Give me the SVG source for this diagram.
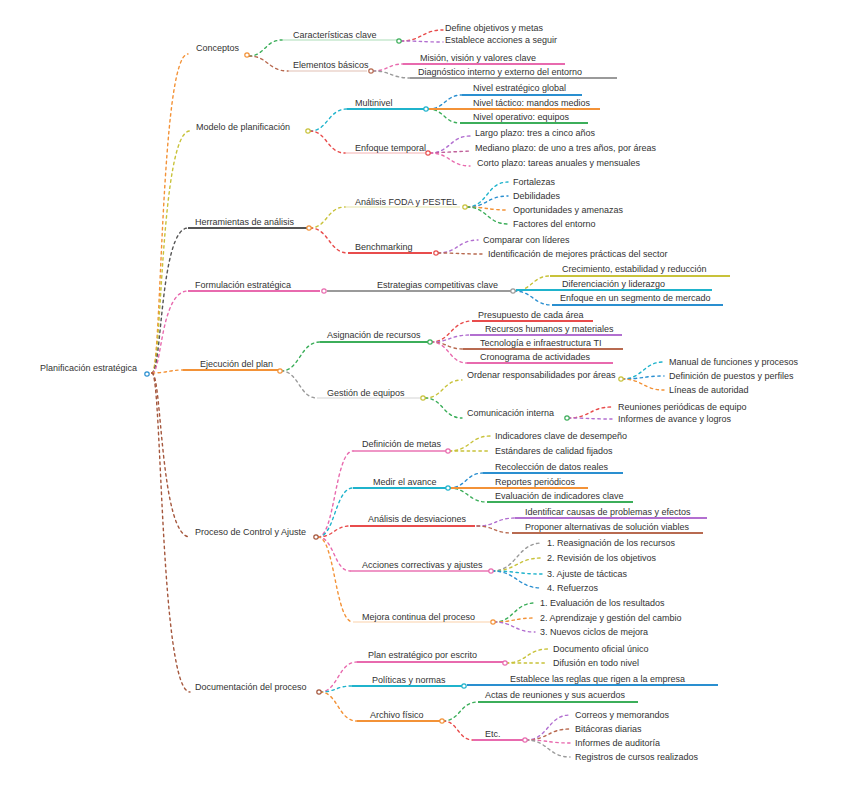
<svg xmlns="http://www.w3.org/2000/svg" width="848" height="791" viewBox="0 0 848 791">
<style>
text{font-family:"Liberation Sans",Arial,sans-serif;font-size:9px;fill:#333}
.c{fill:none;stroke-width:1.4;stroke-dasharray:2.5 3.5;stroke-linecap:round}
.u{fill:none;stroke-width:2}
.t{fill:none;stroke-width:0.8;opacity:.55}
.m{fill:#fff;stroke-width:1.2}
.or{stroke:#f39237}.gr{stroke:#3cae5a}.br{stroke:#b86a50}.pk{stroke:#e86aae}.pu{stroke:#b26fd0}
.rd{stroke:#e84c4c}.cy{stroke:#1fb3cc}.bl{stroke:#2a8fd0}.ol{stroke:#c8c23a}.gy{stroke:#9a9a9a}
.dg{stroke:#555}.bn{stroke:#a5573d}.mg{stroke:#c0609a}
</style>
<rect width="848" height="791" fill="#fff"/>
<g id="connectors">
<path class="c or" d="M152,373 C162,373 160,54 188,54"/>
<path class="c ol" d="M152,373 C162,373 160,131 190,131"/>
<path class="c dg" d="M152,373 C162,373 160,228 188,228"/>
<path class="c pk" d="M152,373 C162,373 160,291 188,291"/>
<path class="c or" d="M152,373 C166,373 170,370 183,370"/>
<path class="c bn" d="M152,373 C162,373 160,537 190,537"/>
<path class="c bn" d="M152,373 C162,373 160,692 190,692"/>
<path class="c gr" d="M249,56 C265,56 265,40 282,40"/>
<path class="c br" d="M249,56 C268,56 268,71 288,71"/>
<path class="c rd" d="M401,41 C422,41 422,30 443,30"/>
<path class="c pu" d="M401,41 C422,41 422,42 443,42"/>
<path class="c pk" d="M373,71 C388,71 388,64 403,64"/>
<path class="c gy" d="M373,71 C391,71 391,78 410,78"/>
<path class="c cy" d="M310,131 C328,131 328,109 347,109"/>
<path class="c rd" d="M310,131 C327,131 327,153 345,153"/>
<path class="c bl" d="M428,109 C445,109 445,95 462,95"/>
<path class="c gr" d="M428,109 C444,109 444,123 460,123"/>
<path class="c pu" d="M430,153 C450,153 450,136 470,136"/>
<path class="c mg" d="M430,153 L470,151"/>
<path class="c pk" d="M430,153 C450,153 450,166 470,166"/>
<path class="c ol" d="M310,228 C327,228 327,207 345,207"/>
<path class="c rd" d="M310,228 C329,228 329,253 348,253"/>
<path class="c cy" d="M467,207 C487,207 487,182 508,182"/>
<path class="c bl" d="M467,207 C487,207 487,196 508,196"/>
<path class="c or" d="M467,207 C487,207 487,210 508,210"/>
<path class="c gr" d="M467,207 C487,207 487,224 508,224"/>
<path class="c pu" d="M438,253 C458,253 458,240 478,240"/>
<path class="c br" d="M438,253 C460,253 460,254 482,254"/>
<path class="c ol" d="M514,291 C532,291 532,276 550,276"/>
<path class="c bl" d="M514,291 C533,291 533,305 552,305"/>
<path class="c gr" d="M281,371 C300,371 300,342 320,342"/>
<path class="c gy" d="M281,371 C299,371 299,398 317,398"/>
<path class="c rd" d="M431,342 C451,342 451,321 472,321"/>
<path class="c pu" d="M431,342 C450,342 450,335 470,335"/>
<path class="c br" d="M431,342 C447,342 447,349 463,349"/>
<path class="c pk" d="M431,342 C449,342 449,363 467,363"/>
<path class="c ol" d="M425,398 C443,398 443,380 462,380"/>
<path class="c gr" d="M425,398 C443,398 443,418 462,418"/>
<path class="c cy" d="M622,379 C643,379 643,362 664,362"/>
<path class="c bl" d="M622,379 C643,379 643,376 664,376"/>
<path class="c or" d="M622,379 C643,379 643,390 664,390"/>
<path class="c rd" d="M568,418 C590,418 590,407 612,407"/>
<path class="c pu" d="M568,418 C590,418 590,419 612,419"/>
<path class="c pk" d="M318,537 C335,537 335,451 353,451"/>
<path class="c cy" d="M318,537 C335,537 335,488 353,488"/>
<path class="c rd" d="M318,537 C334,537 334,526 350,526"/>
<path class="c pk" d="M318,537 C334,537 334,571 350,571"/>
<path class="c or" d="M318,537 C335,537 335,622 353,622"/>
<path class="c ol" d="M449,451 C470,451 470,436 490,436"/>
<path class="c ol" d="M449,451 C470,451 470,451 490,451"/>
<path class="c bl" d="M449,488 C466,488 466,473 483,473"/>
<path class="c gr" d="M449,488 C468,488 468,502 487,502"/>
<path class="c pu" d="M477,526 C496,526 496,518 515,518"/>
<path class="c br" d="M477,526 C494,526 494,533 512,533"/>
<path class="c gy" d="M492,571 C517,571 517,543 542,543"/>
<path class="c ol" d="M492,571 C517,571 517,558 542,558"/>
<path class="c cy" d="M492,571 C517,571 517,574 542,574"/>
<path class="c bl" d="M492,571 C517,571 517,588 542,588"/>
<path class="c gr" d="M494,622 C514,622 514,603 535,603"/>
<path class="c or" d="M494,622 C514,622 514,618 535,618"/>
<path class="c pu" d="M494,622 C514,622 514,632 535,632"/>
<path class="c pk" d="M320,692 C338,692 338,662 357,662"/>
<path class="c cy" d="M320,692 C336,692 336,686 352,686"/>
<path class="c or" d="M320,692 C338,692 338,721 357,721"/>
<path class="c ol" d="M506,663 C527,663 527,649 548,649"/>
<path class="c ol" d="M506,663 C527,663 527,663 548,663"/>
<path class="c gr" d="M443,721 C460,721 460,702 478,702"/>
<path class="c rd" d="M443,721 C458,721 458,740 473,740"/>
<path class="c pu" d="M526,740 C548,740 548,715 570,715"/>
<path class="c br" d="M526,740 C548,740 548,729 570,729"/>
<path class="c pk" d="M526,740 C548,740 548,743 570,743"/>
<path class="c gy" d="M526,740 C548,740 548,757 570,757"/>
</g>
<g id="root"><text x="40" y="371">Planificación estratégica</text><circle class="m bl" cx="147" cy="374" r="2.2"/></g>
<g id="b1"><text x="196" y="51">Conceptos</text><circle class="m or" cx="247" cy="55" r="2.2"/></g>
<g id="b1c1"><line class="t gr" x1="282" y1="40" x2="397" y2="40"/><text x="293" y="38">Características clave</text><circle class="m gr" cx="399" cy="41" r="2.2"/></g>
<g id="b1c1l1"><text x="445" y="31">Define objetivos y metas</text></g>
<g id="b1c1l2"><text x="445" y="43">Establece acciones a seguir</text></g>
<g id="b1c2"><line class="t br" x1="288" y1="71" x2="367" y2="71"/><text x="293" y="68">Elementos básicos</text><circle class="m br" cx="371" cy="71" r="2.2"/></g>
<g id="b1c2l1"><line class="u pk" x1="403" y1="64" x2="565" y2="64" stroke-width="1.4"/><text x="420" y="61">Misión, visión y valores clave</text></g>
<g id="b1c2l2"><line class="u gy" x1="410" y1="78" x2="617" y2="78" stroke-width="1.4"/><text x="418" y="75">Diagnóstico interno y externo del entorno</text></g>
<g id="b2"><text x="196" y="130">Modelo de planificación</text><circle class="m ol" cx="308" cy="131" r="2.2"/></g>
<g id="b2c1"><line class="u cy" x1="347" y1="109" x2="424" y2="109" stroke-width="2.2"/><text x="355" y="106">Multinivel</text><circle class="m cy" cx="426" cy="109" r="2.2"/></g>
<g id="b2c1l1"><line class="u bl" x1="462" y1="95" x2="582" y2="95"/><text x="473" y="91">Nivel estratégico global</text></g>
<g id="b2c1l2"><line class="u or" x1="429" y1="109" x2="600" y2="109"/><text x="473" y="106">Nivel táctico: mandos medios</text></g>
<g id="b2c1l3"><line class="u gr" x1="460" y1="123" x2="588" y2="123"/><text x="473" y="120">Nivel operativo: equipos</text></g>
<g id="b2c2"><line class="t rd" x1="345" y1="153" x2="425" y2="153"/><text x="355" y="151">Enfoque temporal</text><circle class="m rd" cx="428" cy="153" r="2.2"/></g>
<g id="b2c2l1"><text x="475" y="136">Largo plazo: tres a cinco años</text></g>
<g id="b2c2l2"><text x="475" y="151">Mediano plazo: de uno a tres años, por áreas</text></g>
<g id="b2c2l3"><text x="477" y="166">Corto plazo: tareas anuales y mensuales</text></g>
<g id="b3"><line class="u dg" x1="188" y1="228" x2="307" y2="228"/><text x="195" y="225">Herramientas de análisis</text><circle class="m or" cx="309" cy="228" r="2.2"/></g>
<g id="b3c1"><line class="t ol" x1="345" y1="207" x2="460" y2="207"/><text x="355" y="205">Análisis FODA y PESTEL</text><circle class="m ol" cx="465" cy="207" r="2.2"/></g>
<g id="b3c1l1"><text x="513" y="185">Fortalezas</text></g>
<g id="b3c1l2"><text x="513" y="199">Debilidades</text></g>
<g id="b3c1l3"><text x="513" y="213">Oportunidades y amenazas</text></g>
<g id="b3c1l4"><text x="513" y="227">Factores del entorno</text></g>
<g id="b3c2"><line class="u rd" x1="348" y1="253" x2="432" y2="253" stroke-width="1.6"/><text x="355" y="250">Benchmarking</text><circle class="m rd" cx="436" cy="253" r="2.2"/></g>
<g id="b3c2l1"><text x="483" y="243">Comparar con líderes</text></g>
<g id="b3c2l2"><text x="488" y="257">Identificación de mejores prácticas del sector</text></g>
<g id="b4"><line class="u pk" x1="188" y1="291" x2="320" y2="291"/><text x="195" y="288">Formulación estratégica</text><circle class="m pk" cx="324" cy="291" r="2.2"/></g>
<g id="b4c1"><line class="u gy" x1="327" y1="291" x2="512" y2="291"/><text x="377" y="288">Estrategias competitivas clave</text><circle class="m gy" cx="513" cy="291" r="2.2"/></g>
<g id="b4c1l1"><line class="u ol" x1="550" y1="276" x2="730" y2="276"/><text x="562" y="272">Crecimiento, estabilidad y reducción</text></g>
<g id="b4c1l2"><line class="u cy" x1="516" y1="290" x2="712" y2="290"/><text x="562" y="287">Diferenciación y liderazgo</text></g>
<g id="b4c1l3"><line class="u bl" x1="552" y1="305" x2="723" y2="305"/><text x="560" y="301">Enfoque en un segmento de mercado</text></g>
<g id="b5"><line class="u or" x1="183" y1="370" x2="278" y2="370" stroke-width="1.6"/><text x="200" y="367">Ejecución del plan</text><circle class="m or" cx="280" cy="371" r="2.2"/></g>
<g id="b5c1"><line class="u gr" x1="320" y1="342" x2="428" y2="342"/><text x="327" y="338">Asignación de recursos</text><circle class="m gr" cx="430" cy="342" r="2.2"/></g>
<g id="b5c1l1"><line class="u rd" x1="472" y1="321" x2="593" y2="321" stroke-width="1.6"/><text x="478" y="318">Presupuesto de cada área</text></g>
<g id="b5c1l2"><line class="u pu" x1="470" y1="335" x2="622" y2="335" stroke-width="1.6"/><text x="485" y="332">Recursos humanos y materiales</text></g>
<g id="b5c1l3"><line class="u br" x1="463" y1="349" x2="623" y2="349" stroke-width="1.6"/><text x="480" y="346">Tecnología e infraestructura TI</text></g>
<g id="b5c1l4"><line class="u pk" x1="467" y1="363" x2="613" y2="363" stroke-width="1.6"/><text x="480" y="360">Cronograma de actividades</text></g>
<g id="b5c2"><line class="t gy" x1="317" y1="398" x2="420" y2="398"/><text x="327" y="396">Gestión de equipos</text><circle class="m ol" cx="423" cy="398" r="2.2"/></g>
<g id="b5c2c1"><text x="467" y="378">Ordenar responsabilidades por áreas</text><circle class="m ol" cx="621" cy="379" r="2.2"/></g>
<g id="b5c2c1l1"><text x="669" y="365">Manual de funciones y procesos</text></g>
<g id="b5c2c1l2"><text x="669" y="379">Definición de puestos y perfiles</text></g>
<g id="b5c2c1l3"><text x="669" y="393">Líneas de autoridad</text></g>
<g id="b5c2c2"><text x="467" y="416">Comunicación interna</text><circle class="m gr" cx="567" cy="418" r="2.2"/></g>
<g id="b5c2c2l1"><text x="618" y="410">Reuniones periódicas de equipo</text></g>
<g id="b5c2c2l2"><text x="618" y="422">Informes de avance y logros</text></g>
<g id="b6"><text x="195" y="535">Proceso de Control y Ajuste</text><circle class="m bn" cx="316" cy="537" r="2.2"/></g>
<g id="b6c1"><line class="u pk" x1="353" y1="451" x2="446" y2="451" stroke-width="1" opacity=".7"/><text x="362" y="447">Definición de metas</text><circle class="m pk" cx="448" cy="451" r="2.2"/></g>
<g id="b6c1l1"><text x="495" y="439">Indicadores clave de desempeño</text></g>
<g id="b6c1l2"><text x="495" y="454">Estándares de calidad fijados</text></g>
<g id="b6c2"><line class="u cy" x1="353" y1="488" x2="446" y2="488"/><text x="373" y="485">Medir el avance</text><circle class="m cy" cx="448" cy="488" r="2.2"/></g>
<g id="b6c2l1"><line class="u bl" x1="483" y1="473" x2="623" y2="473"/><text x="495" y="470">Recolección de datos reales</text></g>
<g id="b6c2l2"><line class="u or" x1="451" y1="488" x2="588" y2="488"/><text x="495" y="485">Reportes periódicos</text></g>
<g id="b6c2l3"><line class="u gr" x1="487" y1="502" x2="633" y2="502"/><text x="495" y="499">Evaluación de indicadores clave</text></g>
<g id="b6c3"><line class="u rd" x1="350" y1="526" x2="475" y2="526" stroke-width="2.4"/><text x="368" y="522">Análisis de desviaciones</text></g>
<g id="b6c3l1"><line class="u pu" x1="515" y1="518" x2="707" y2="518"/><text x="525" y="515">Identificar causas de problemas y efectos</text></g>
<g id="b6c3l2"><line class="u br" x1="512" y1="533" x2="703" y2="533"/><text x="525" y="530">Proponer alternativas de solución viables</text></g>
<g id="b6c4"><line class="u pk" x1="350" y1="571" x2="489" y2="571" stroke-width="1" opacity=".7"/><text x="362" y="568">Acciones correctivas y ajustes</text><circle class="m pk" cx="491" cy="571" r="2.2"/></g>
<g id="b6c4l1"><text x="547" y="546">1. Reasignación de los recursos</text></g>
<g id="b6c4l2"><text x="547" y="561">2. Revisión de los objetivos</text></g>
<g id="b6c4l3"><text x="547" y="577">3. Ajuste de tácticas</text></g>
<g id="b6c4l4"><text x="547" y="591">4. Refuerzos</text></g>
<g id="b6c5"><line class="t or" x1="353" y1="622" x2="490" y2="622"/><text x="362" y="620">Mejora continua del proceso</text><circle class="m or" cx="493" cy="622" r="2.2"/></g>
<g id="b6c5l1"><text x="540" y="606">1. Evaluación de los resultados</text></g>
<g id="b6c5l2"><text x="540" y="621">2. Aprendizaje y gestión del cambio</text></g>
<g id="b6c5l3"><text x="540" y="635">3. Nuevos ciclos de mejora</text></g>
<g id="b7"><text x="195" y="690">Documentación del proceso</text><circle class="m bn" cx="319" cy="692" r="2.2"/></g>
<g id="b7c1"><line class="u pk" x1="357" y1="662" x2="503" y2="662" stroke-width="1.2"/><text x="368" y="658">Plan estratégico por escrito</text><circle class="m pk" cx="505" cy="663" r="2.2"/></g>
<g id="b7c1l1"><text x="553" y="652">Documento oficial único</text></g>
<g id="b7c1l2"><text x="553" y="666">Difusión en todo nivel</text></g>
<g id="b7c2"><line class="u cy" x1="352" y1="686" x2="462" y2="686"/><text x="372" y="683">Políticas y normas</text><circle class="m cy" cx="464" cy="686" r="2.2"/></g>
<g id="b7c2l1"><line class="u bl" x1="467" y1="685" x2="718" y2="685"/><text x="510" y="682">Establece las reglas que rigen a la empresa</text></g>
<g id="b7c3"><line class="u or" x1="357" y1="721" x2="440" y2="721"/><text x="370" y="718">Archivo físico</text><circle class="m or" cx="442" cy="721" r="2.2"/></g>
<g id="b7c3l1"><line class="u gr" x1="478" y1="702" x2="638" y2="702"/><text x="485" y="698">Actas de reuniones y sus acuerdos</text></g>
<g id="b7c3c2"><line class="u pk" x1="473" y1="740" x2="523" y2="740" stroke-width="1.6"/><text x="485" y="737">Etc.</text><circle class="m pk" cx="525" cy="740" r="2.2"/></g>
<g id="b7c3c2l1"><text x="575" y="718">Correos y memorandos</text></g>
<g id="b7c3c2l2"><text x="575" y="732">Bitácoras diarias</text></g>
<g id="b7c3c2l3"><text x="575" y="746">Informes de auditoría</text></g>
<g id="b7c3c2l4"><text x="575" y="760">Registros de cursos realizados</text></g>
</svg>
